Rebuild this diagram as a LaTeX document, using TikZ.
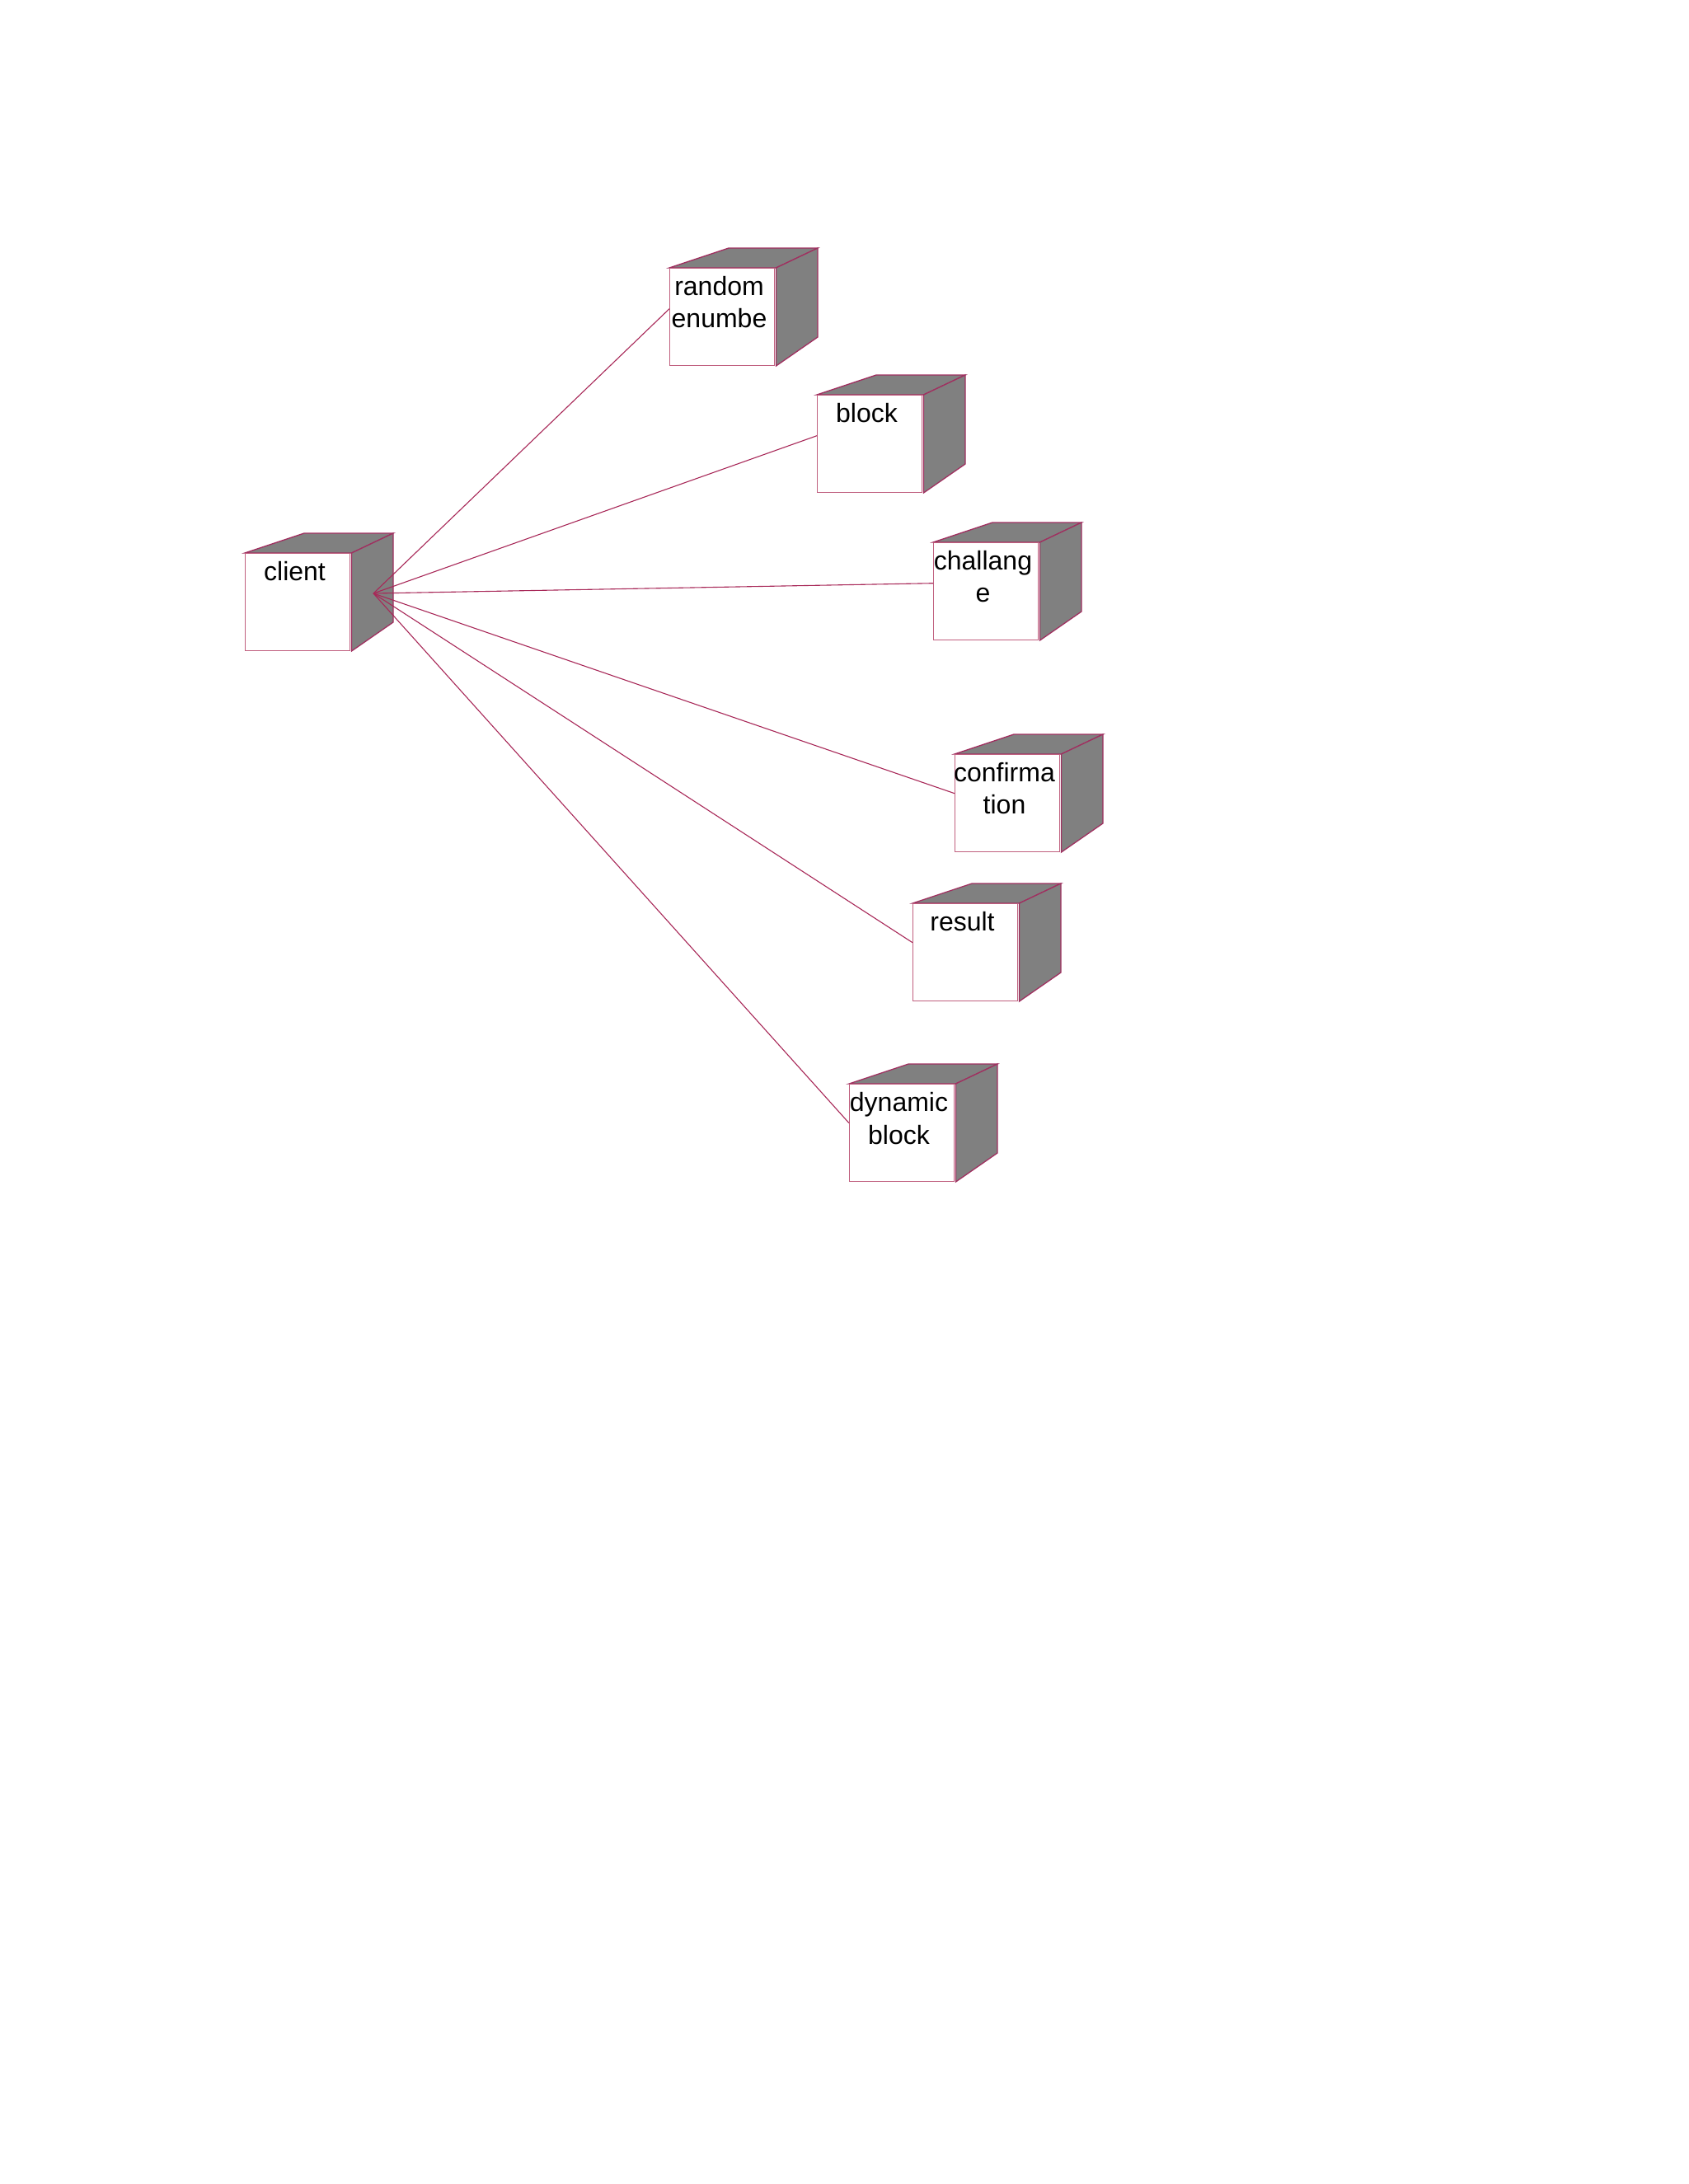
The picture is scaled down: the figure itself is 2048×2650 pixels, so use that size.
\documentclass[tikz,border=0pt]{standalone}
\usepackage{fontspec}
\setmainfont{Liberation Sans}
\definecolor{edgecol}{HTML}{C0607F}
\definecolor{sideedge}{HTML}{A03060}
\definecolor{sidecol}{HTML}{808080}
\definecolor{conncol}{HTML}{A82858}
\tikzset{
  frontface/.style={draw=edgecol, fill=white, line width=1.4pt, minimum width=127pt, minimum height=118pt, inner sep=0pt, anchor=north west},
  shadeface/.style={draw=sideedge, fill=sidecol, line width=1.3pt, line join=miter},
  lbl/.style={font=\fontsize{32}{39}\selectfont, anchor=base, inner sep=0pt, text=black},
  connline/.style={draw=conncol, line width=1.1pt}
}
\newcommand\cubenode[3]{%
  \filldraw[shadeface] (#2,#3) -- (#2+72,#3-24) -- (#2+180,#3-24) -- (#2+129.5,#3) -- cycle;
  \filldraw[shadeface] (#2+129.5,#3) -- (#2+180,#3-24) -- (#2+180,#3+84) -- (#2+129.5,#3+119) -- cycle;
  \node[frontface] (#1) at (#2,#3) {};
}
\begin{document}
\begin{tikzpicture}[x=1pt,y=-1pt]
  \fill[white] (0,0) rectangle (2048,2650);
  \useasboundingbox (0,0) rectangle (2048,2650);

  \cubenode{client}{297}{671}
  \cubenode{random}{812}{325}
  \cubenode{block}{991}{479}
  \cubenode{challange}{1132}{658}
  \cubenode{confirmation}{1158}{915}
  \cubenode{result}{1107}{1096}
  \cubenode{dynamic}{1030}{1315}

  \node[lbl] (client-l1) at (357.5,704.5) {client};
  \node[lbl] (random-l1) at (872.5,358.5) {random};
  \node[lbl] (random-l2) at (872.5,397.5) {enumbe};
  \node[lbl] (block-l1) at (1051.5,512.5) {block};
  \node[lbl] (challange-l1) at (1192.5,691.5) {challang};
  \node[lbl] (challange-l2) at (1192.5,730.5) {e};
  \node[lbl] (confirmation-l1) at (1218.5,948.5) {confirma};
  \node[lbl] (confirmation-l2) at (1218.5,987.5) {tion};
  \node[lbl] (result-l1) at (1167.5,1129.5) {result};
  \node[lbl] (dynamic-l1) at (1090.5,1348.5) {dynamic};
  \node[lbl] (dynamic-l2) at (1090.5,1388.5) {block};

  \coordinate (hub) at (453,720);
  \draw[connline] (hub) -- ([yshift=10pt]random.west);
  \draw[connline] (hub) -- ([yshift=10pt]block.west);
  \draw[connline] (hub) -- ([yshift=10pt]challange.west);
  \draw[connline] (hub) -- ([yshift=12pt]confirmation.west);
  \draw[connline] (hub) -- ([yshift=12pt]result.west);
  \draw[connline] (hub) -- ([yshift=12pt]dynamic.west);
\end{tikzpicture}
\end{document}
